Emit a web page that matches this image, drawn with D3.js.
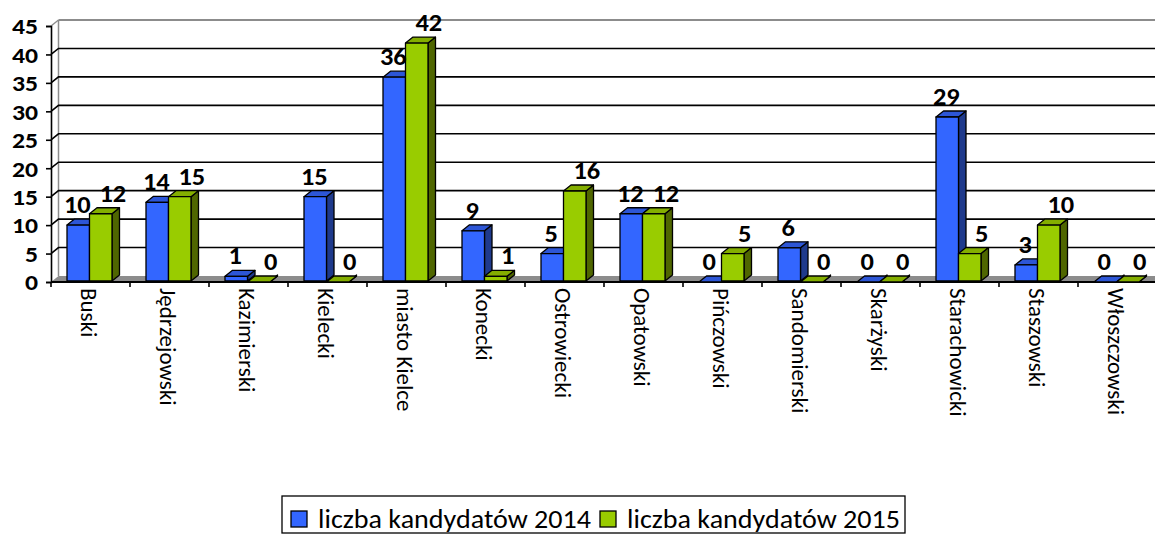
<!DOCTYPE html>
<html><head><meta charset="utf-8">
<script src="https://cdn.jsdelivr.net/npm/d3@7"></script>
<style>
html,body{margin:0;padding:0;background:#fff;}
svg{display:block;}
text{font-family:Calibri, Carlito, Lato, sans-serif;}
</style></head>
<body>
<svg id="chart" width="1155" height="538"></svg>
<script>
const categories = ["Buski","Jędrzejowski","Kazimierski","Kielecki","miasto Kielce","Konecki","Ostrowiecki","Opatowski","Pińczowski","Sandomierski","Skarżyski","Starachowicki","Staszowski","Włoszczowski"];
const values2014 = [10,14,1,15,36,9,5,12,0,6,0,29,3,0];
const values2015 = [12,15,0,0,42,1,16,12,5,0,0,5,10,0];
const seriesNames = ["liczba kandydatów 2014","liczba kandydatów 2015"];
const yTicks = [0,5,10,15,20,25,30,35,40,45];

(function(){
const svg = d3.select("#chart");
const plotLeft = 51, bandW = 79, plotBottom = 282, plotTop = 26;
const dx = 7.5, dy = -6;
const x = d3.scaleBand().domain(categories).range([plotLeft, plotLeft + bandW*categories.length]).padding(0);
const sub = d3.scaleBand().domain(["2014","2015"]).range([16, 61]).padding(0);
const y = d3.scaleLinear().domain([0,45]).range([plotBottom, plotTop]);
const plotRight = x.range()[1];

const colors = {
  "2014": {front:"#3366FF", top:"#2D56D6", side:"#1F3A8C"},
  "2015": {front:"#99CC00", top:"#84AE00", side:"#4F6600"}
};

// floor
svg.append("path")
  .attr("d", `M${plotLeft},${plotBottom}L${plotRight},${plotBottom}L${plotRight+dx},${plotBottom+dy}L${plotLeft+dx},${plotBottom+dy}Z`)
  .attr("fill","#8c8c8c").attr("stroke","none");
svg.append("line").attr("x1",plotLeft+dx).attr("x2",plotLeft+dx).attr("y1",y(45)+dy).attr("y2",plotBottom+dy)
  .attr("stroke","#8c8c8c").attr("stroke-width",1.5);
svg.append("line").attr("x1",plotLeft+dx).attr("x2",plotRight+dx).attr("y1",y(45)+dy).attr("y2",y(45)+dy)
  .attr("stroke","#8c8c8c").attr("stroke-width",2);
const grid = svg.append("g");
yTicks.filter(t => t>0 && t<45).forEach(t => {
  grid.append("path")
    .attr("d", `M${plotLeft},${y(t)}L${plotLeft+dx},${y(t)+dy}L${plotRight+dx},${y(t)+dy}`)
    .attr("fill","none").attr("stroke","#000").attr("stroke-width",1.6);
});
grid.append("line").attr("x1",plotLeft).attr("y1",y(45)).attr("x2",plotLeft+dx).attr("y2",y(45)+dy)
  .attr("stroke","#8c8c8c").attr("stroke-width",1.5);

// y axis (line + ticks via d3 axis, labels drawn with horizontal stretch)
const yAxis = d3.axisLeft(y).tickValues(yTicks).tickSize(5).tickFormat("");
const ya = svg.append("g").attr("transform",`translate(${plotLeft},0)`).call(yAxis);
ya.select(".domain").attr("stroke","#000").attr("stroke-width",1.6);
ya.selectAll(".tick line").attr("stroke","#000").attr("stroke-width",1.6);
svg.append("g").selectAll("text").data(yTicks).enter().append("text")
  .attr("transform", t => `translate(38,${y(t)}) scale(1.12,1)`)
  .attr("dy","0.36em").attr("text-anchor","end")
  .attr("font-size",23).attr("font-weight","bold").attr("fill","#000")
  .text(d3.format("d"));

// x axis line + boundary ticks
svg.append("line").attr("x1",plotLeft).attr("x2",plotRight).attr("y1",plotBottom).attr("y2",plotBottom)
  .attr("stroke","#000").attr("stroke-width",1.8);
svg.selectAll(".xtick").data(categories.concat(["__end"])).enter().append("line")
  .attr("x1", (d,i) => plotLeft + i*x.step()).attr("x2",(d,i) => plotLeft + i*x.step())
  .attr("y1",plotBottom).attr("y2",plotBottom+5).attr("stroke","#000").attr("stroke-width",1.6);

// category labels
svg.selectAll(".cat").data(categories).enter().append("text")
  .attr("transform", d => `translate(${x(d)+30},288) rotate(90)`)
  .attr("font-size",23).attr("fill","#000").text(d => d);

// bars
const rows = [];
categories.forEach((c,i) => {
  rows.push({cat:c, s:"2014", v:values2014[i]});
  rows.push({cat:c, s:"2015", v:values2015[i]});
});
const bars = svg.append("g");
rows.forEach(r => {
  const x0 = x(r.cat) + sub(r.s), w = sub.bandwidth();
  const y0 = y(r.v), yb = y(0) - 1;
  const col = colors[r.s];
  const g = bars.append("g").attr("stroke","#000").attr("stroke-width",1.3).attr("stroke-linejoin","round");
  g.append("path").attr("d",`M${x0+w},${yb}L${x0+w+dx},${yb+dy}L${x0+w+dx},${y0+dy}L${x0+w},${y0}Z`).attr("fill",col.side);
  g.append("path").attr("d",`M${x0},${y0}L${x0+dx},${y0+dy}L${x0+w+dx},${y0+dy}L${x0+w},${y0}Z`).attr("fill",col.top);
  if (r.v > 0) g.append("rect").attr("x",x0).attr("y",y0).attr("width",w).attr("height",yb-y0).attr("fill",col.front);
});

// data labels
svg.append("g").selectAll("text").data(rows).enter().append("text")
  .attr("transform", r => `translate(${x(r.cat) + sub(r.s) + sub.bandwidth()/2 + (r.s === "2015" ? 12 : -1)},${y(r.v) - 12}) scale(1.1,1)`)
  .attr("text-anchor","middle").attr("font-size",24).attr("font-weight","bold").attr("fill","#000")
  .text(r => r.v);

// legend
const lg = svg.append("g");
lg.append("rect").attr("x",282).attr("y",496).attr("width",623).attr("height",37)
  .attr("fill","#fff").attr("stroke","#000").attr("stroke-width",1.3);
const legX = [291, 600];
seriesNames.forEach((n,i) => {
  const key = i === 0 ? "2014" : "2015";
  lg.append("rect").attr("x",legX[i]).attr("y",511).attr("width",16).attr("height",16)
    .attr("fill",colors[key].front).attr("stroke","#000").attr("stroke-width",1.3);
  lg.append("text").attr("transform",`translate(${legX[i]+27},528) scale(1.08,1)`)
    .attr("font-size",26).attr("fill","#000").text(n);
});
})();
</script>
</body></html>
